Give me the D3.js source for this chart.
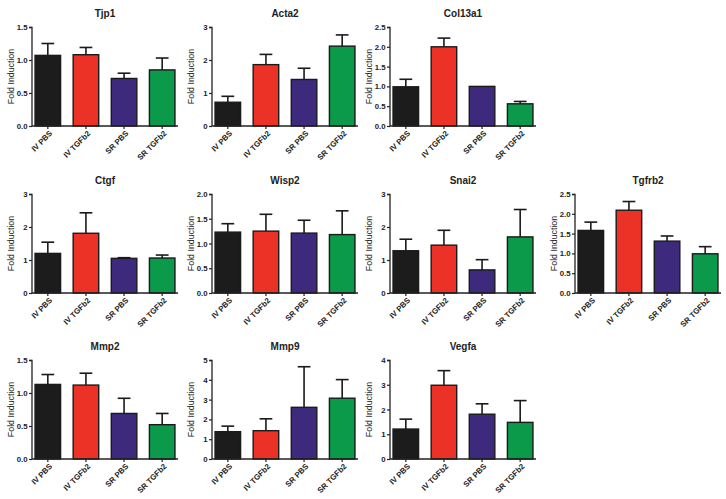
<!DOCTYPE html>
<html>
<head>
<meta charset="utf-8">
<script src="https://cdn.jsdelivr.net/npm/d3@7"></script>
<style>
  body { margin: 0; background: #fff; }
  svg { display: block; }
  text { font-family: "Liberation Sans", Arial, sans-serif; fill: #222; }
</style>
</head>
<body>
<svg id="chart" width="726" height="499"></svg>
<script>
// ---- data ----
const categories = ["IV PBS", "IV TGFb2", "SR PBS", "SR TGFb2"];
const genes = ["Tjp1", "Acta2", "Col13a1", "Ctgf", "Wisp2", "Snai2", "Tgfrb2", "Mmp2", "Mmp9", "Vegfa"];
const tjp1Mean = [1.07, 1.08, 0.72, 0.85];   const tjp1Err = [0.18, 0.11, 0.08, 0.18];
const acta2Mean = [0.72, 1.86, 1.41, 2.42];  const acta2Err = [0.18, 0.31, 0.34, 0.34];
const col13a1Mean = [0.99, 2.0, 1.0, 0.56];  const col13a1Err = [0.19, 0.22, 0.0, 0.06];
const ctgfMean = [1.2, 1.81, 1.05, 1.06];    const ctgfErr = [0.34, 0.62, 0.02, 0.09];
const wisp2Mean = [1.23, 1.25, 1.21, 1.18];  const wisp2Err = [0.17, 0.34, 0.26, 0.48];
const snai2Mean = [1.28, 1.45, 0.70, 1.70];  const snai2Err = [0.35, 0.45, 0.31, 0.83];
const tgfrb2Mean = [1.58, 2.09, 1.31, 0.99]; const tgfrb2Err = [0.21, 0.22, 0.13, 0.18];
const mmp2Mean = [1.13, 1.12, 0.69, 0.52];   const mmp2Err = [0.15, 0.18, 0.23, 0.17];
const mmp9Mean = [1.38, 1.43, 2.61, 3.07];   const mmp9Err = [0.28, 0.60, 2.05, 0.94];
const vegfaMean = [1.21, 2.98, 1.81, 1.48];  const vegfaErr = [0.40, 0.59, 0.42, 0.88];
const means = [tjp1Mean, acta2Mean, col13a1Mean, ctgfMean, wisp2Mean, snai2Mean, tgfrb2Mean, mmp2Mean, mmp9Mean, vegfaMean];
const errs = [tjp1Err, acta2Err, col13a1Err, ctgfErr, wisp2Err, snai2Err, tgfrb2Err, mmp2Err, mmp9Err, vegfaErr];
const yMax = [1.5, 3, 2.5, 3, 2.0, 3, 2.5, 1.5, 5, 4];
const tickStep = [0.5, 1, 0.5, 1, 0.5, 1, 0.5, 0.5, 1, 1];
const tickFormat = [".1f", "d", ".1f", "d", ".1f", "d", ".1f", ".1f", "d", "d"];
const yLabel = "Fold Induction";
const colors = ["#1c1c1c", "#ec3127", "#3d2a7d", "#0a9a4a"];

// ---- layout ----
const colX = [32, 212, 390, 575];
const rowTop = [27, 194, 360];
const plotH = 99;
const plotW = 146;
const panelPos = [[0,0],[0,1],[0,2],[1,0],[1,1],[1,2],[1,3],[2,0],[2,1],[2,2]];

const svg = d3.select("#chart");
svg.append("rect").attr("width", 726).attr("height", 499).attr("fill", "#fff");

genes.forEach((g, i) => {
  const [r, c] = panelPos[i];
  const x0 = colX[c], y0 = rowTop[r];
  const grp = svg.append("g").attr("transform", `translate(${x0},${y0})`);

  const x = d3.scaleBand().domain(categories).range([0, plotW]).paddingInner(0.33).paddingOuter(0.08);
  const y = d3.scaleLinear().domain([0, yMax[i]]).range([plotH, 0]);
  const ticks = d3.range(0, yMax[i] + 1e-9, tickStep[i]);

  const data = categories.map((k, j) => ({ k, m: means[i][j], e: errs[i][j], col: colors[j] }));

  // error bars (upper only)
  const capW = x.bandwidth() * 0.5;
  data.forEach(d => {
    const cx = x(d.k) + x.bandwidth() / 2;
    if (d.e > 0) {
      grp.append("line").attr("x1", cx).attr("x2", cx)
        .attr("y1", y(d.m)).attr("y2", y(d.m + d.e))
        .attr("stroke", "#1a1a1a").attr("stroke-width", 1.6);
      grp.append("line").attr("x1", cx - capW / 2).attr("x2", cx + capW / 2)
        .attr("y1", y(d.m + d.e)).attr("y2", y(d.m + d.e))
        .attr("stroke", "#1a1a1a").attr("stroke-width", 1.6);
    }
  });

  grp.selectAll("rect.bar").data(data).enter().append("rect")
    .attr("class", "bar")
    .attr("x", d => x(d.k))
    .attr("y", d => y(d.m))
    .attr("width", x.bandwidth())
    .attr("height", d => plotH - y(d.m))
    .attr("fill", d => d.col)
    .attr("stroke", "#1a1a1a")
    .attr("stroke-width", 1.4);

  // y axis
  const yAxis = d3.axisLeft(y).tickValues(ticks).tickFormat(d3.format(tickFormat[i])).tickSize(3).tickPadding(1.5);
  const ya = grp.append("g").call(yAxis);
  ya.select(".domain").attr("stroke", "#222").attr("stroke-width", 1.3).attr("d", `M-3,0.5H0V${plotH}`);
  ya.selectAll(".tick line").attr("stroke", "#222").attr("stroke-width", 1.2);
  ya.selectAll(".tick text").attr("font-size", 7.8).attr("font-weight", "bold")
    .style("font-family", "'Liberation Sans', Arial, sans-serif").attr("fill", "#333");

  // x axis
  const xAxis = d3.axisBottom(x).tickSize(3).tickPadding(2);
  const xa = grp.append("g").attr("transform", `translate(0,${plotH})`).call(xAxis);
  xa.select(".domain").attr("stroke", "#222").attr("stroke-width", 1.3).attr("d", `M0,0H${plotW}`);
  xa.selectAll(".tick line").attr("stroke", "#222").attr("stroke-width", 1.2);
  xa.selectAll(".tick text")
    .attr("font-size", 7.8).attr("font-weight", "bold")
    .style("font-family", "'Liberation Sans', Arial, sans-serif").attr("fill", "#333")
    .attr("text-anchor", "end")
    .attr("dy", "0.35em")
    .attr("transform", "translate(3,6) rotate(-45)")
    .attr("y", 0).attr("x", 0);

  // title
  grp.append("text").attr("x", plotW / 2).attr("y", -10)
    .attr("text-anchor", "middle").attr("font-size", 10).attr("font-weight", "bold")
    .attr("fill", "#222").text(g);

  // y label
  grp.append("text")
    .attr("transform", `translate(-18,${plotH / 2}) rotate(-90)`)
    .attr("text-anchor", "middle").attr("font-size", 8.8)
    .attr("fill", "#333").text(yLabel);
});
</script>
</body>
</html>
